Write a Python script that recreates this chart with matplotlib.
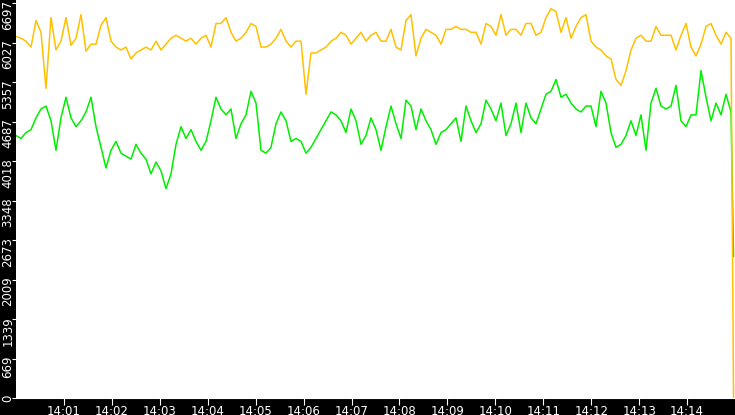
import numpy as np
import matplotlib
matplotlib.use("Agg")
import matplotlib.pyplot as plt
from matplotlib.transforms import offset_copy

orange = [6130,6100,6050,5950,6400,6200,5250,6450,5900,6050,6450,5980,6100,6500,5880,6000,6000,6320,6450,6050,5950,5900,5950,5750,5850,5900,5950,5900,6050,5900,6000,6100,6150,6100,6050,6100,
          6000,6100,6150,5950,6350,6350,6450,6200,6050,6100,6200,6350,6300,5950,5950,6000,6100,6250,6050,5950,6050,6050,
          5150,5850,5850,5900,5950,6050,6100,6200,6150,6000,6100,6200,6050,
          6150,6200,6050,6050,6250,5950,5900,6400,6500,5800,6100,6250,6200,6150,6000,6250,6250,6300,6250,6250,6200,6200,6000,6350,6300,6150,6500,6150,6250,6250,6150,6350,6350,6150,6200,
          6450,6600,6550,6200,6450,6100,6300,6450,6500,6050,5950,5900,5800,5750,5400,5300,5550,5900,6100,6150,6050,6050,6300,6150,6150,6150,5900,6150,6350,5950,5800,6000,6300,6350,6150,6000,6200,6100]
green = [4450,4400,4500,4550,4750,4900,4950,4700,4200,4750,5100,4750,4600,4700,4850,5100,4600,4250,3900,4200,4350,4150,4100,4050,4300,4150,4050,3800,4000,3850,3550,3800,4300,4600,4400,4550,
         4350,4200,4350,4700,5100,4900,4800,4900,4400,4650,4800,5200,5000,4200,4150,4250,4650,4850,4700,4350,4400,4350,4150,4250,4400,4550,4700,4850,4800,4700,4500,4900,4700,4300,4450,
         4750,4550,4200,4600,4950,4650,4400,5050,4950,4550,4900,4700,4550,4300,4500,4550,4650,4750,4350,4950,4700,4500,4650,5050,4900,4700,5000,4450,4650,5000,4500,5000,4750,4650,4900,
         5150,5200,5400,5100,5150,5000,4900,4850,4950,4950,4600,5200,5000,4500,4250,4300,4450,4700,4450,4800,4200,5000,5250,4950,4900,4950,5300,4700,4600,4800,4800,5550,5100,4700,5000,4800,5150,4850]
orange_end = [0]
green_end = [2400]
ytick_vals = [0, 669, 1339, 2009, 2673, 3348, 4018, 4687, 5357, 6027, 6697]
xtick_labels = ["14:%02d" % m for m in range(1, 15)]

minutes = np.arange(len(orange)) * (15.0 * 5 / 719)
t_end = 14.97

fig = plt.figure(figsize=(7.35, 4.15), dpi=100, facecolor="black")
ax = fig.add_axes([16/735, 17/415, 719/735, 398/415])
ax.set_facecolor("white")
ax.plot(np.append(minutes, t_end), green + green_end, color="#00ee00", lw=1.1, zorder=2)
ax.plot(np.append(minutes, t_end), orange + orange_end, color="#ffc000", lw=1.1, zorder=3)
ax.set_xlim(0, 15)
ax.set_ylim(0, 6748)
for s in ["top", "right", "left"]:
    ax.spines[s].set_visible(False)
ax.spines["bottom"].set_color("white")
ax.set_xticks(range(1, 15))
ax.set_xticklabels(xtick_labels, color="white", fontsize=8.5)
ax.tick_params(axis="x", colors="white", length=5, pad=0)
ax.set_yticks(ytick_vals)
ax.set_yticklabels([])
ax.tick_params(axis="y", colors="white", length=3)
tr = offset_copy(ax.get_yaxis_transform(), fig=fig, x=-8, y=3, units="dots")
for v in ytick_vals:
    ax.text(0, v, str(v), transform=tr, rotation=90, ha="center", va="top",
            color="white", fontsize=8.5, clip_on=False)
fig.savefig("out.png", dpi=100, facecolor="black")
